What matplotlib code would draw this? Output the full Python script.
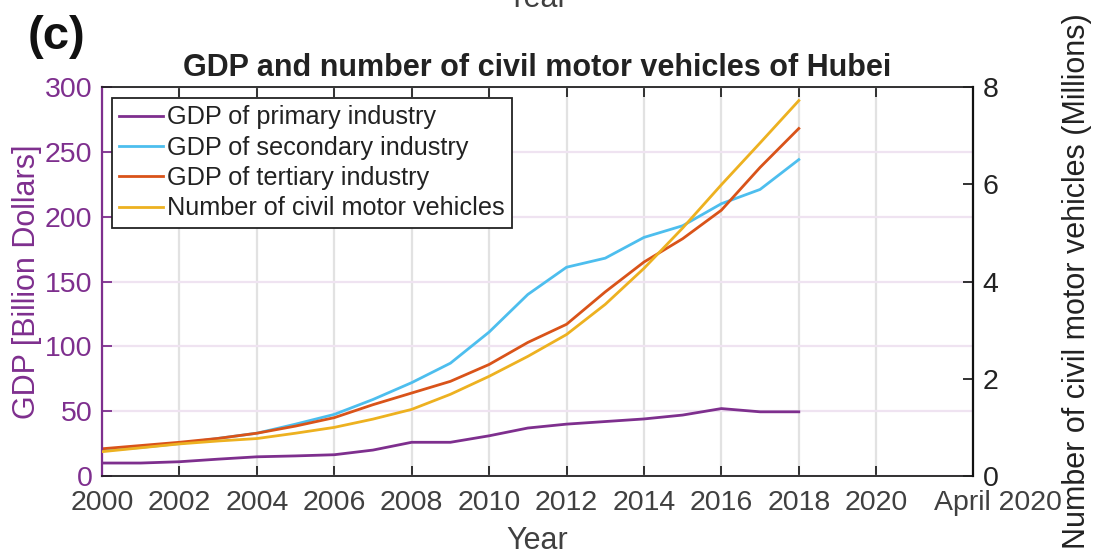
import numpy as np
import matplotlib
matplotlib.use("Agg")
import matplotlib.pyplot as plt

plt.rcParams['font.family'] = ['Liberation Sans', 'DejaVu Sans']

# data
years = list(range(2000, 2019))
gdp_primary = [10, 10, 11, 13, 14.8, 15.5, 16.4, 20, 26, 26, 31, 37, 40, 42, 44, 47, 52, 49.5, 49.5]
gdp_secondary = [19.5, 22, 25, 29, 33, 40, 47.5, 59, 72, 87, 111, 140, 161, 168, 184, 193, 210, 221, 244]
gdp_tertiary = [21, 23.5, 26, 29, 33, 38.5, 45, 55, 64, 73, 86, 103, 117, 142, 165, 183, 205, 238, 268]
vehicles = [0.50, 0.58, 0.66, 0.72, 0.77, 0.88, 1.0, 1.17, 1.37, 1.68, 2.05, 2.46, 2.91, 3.53, 4.27, 5.1, 5.99, 6.85, 7.72]

xticks = list(range(2000, 2021, 2))
gdp_ticks = [0, 50, 100, 150, 200, 250, 300]
veh_ticks = [0, 2, 4, 6, 8]

c_prim = "#7E2F8E"
c_sec = "#4DBEEE"
c_ter = "#D95319"
c_veh = "#EDB120"
tick_gray = "#404040"

fig = plt.figure(figsize=(10.96, 5.56), dpi=100)
ax = fig.add_axes([102/1096, 1 - 476/556, (973 - 102)/1096, (476 - 87)/556])
ax2 = ax.twinx()

l1, = ax.plot(years, gdp_primary, color=c_prim, lw=2.0, label="GDP of primary industry")
l2, = ax.plot(years, gdp_secondary, color=c_sec, lw=2.0, label="GDP of secondary industry")
l3, = ax.plot(years, gdp_tertiary, color=c_ter, lw=2.0, label="GDP of tertiary industry")
l4, = ax2.plot(years, vehicles, color=c_veh, lw=2.0, label="Number of civil motor vehicles")

ax.set_xlim(2000, 2022.5)
ax.set_ylim(0, 300)
ax2.set_ylim(0, 8)
ax.set_xticks(xticks)
ax.set_yticks(gdp_ticks)
ax2.set_yticks(veh_ticks)

# grid: gray verticals, light purple horizontals
ax.xaxis.grid(True, color="#E2E2E2", lw=1.6)
ax.yaxis.grid(True, color="#EFE3F1", lw=1.6)
ax.set_axisbelow(True)

ax.tick_params(axis='x', direction='in', top=True, length=7, width=1.3,
               labelsize=20.5, labelcolor=tick_gray, pad=10, color="#222222")
ax.tick_params(axis='y', direction='in', length=7, width=1.3, labelsize=20.5,
               colors=c_prim, pad=7)
ax2.tick_params(axis='y', direction='in', length=7, width=1.3, labelsize=20.5,
                colors="#222222", pad=7)

for s in ['top', 'bottom']:
    ax.spines[s].set_color("#222222")
    ax.spines[s].set_linewidth(1.3)
ax.spines['left'].set_color(c_prim)
ax.spines['left'].set_linewidth(1.6)
ax.spines['right'].set_visible(False)
ax2.spines['left'].set_visible(False)
ax2.spines['top'].set_visible(False)
ax2.spines['bottom'].set_visible(False)
ax2.spines['right'].set_color("#111111")
ax2.spines['right'].set_linewidth(1.6)

ax.set_xlabel("Year", fontsize=22, color=tick_gray, labelpad=7)
ax.set_ylabel("GDP [Billion Dollars]", fontsize=22, color=c_prim, labelpad=2)
ax2.set_ylabel("Number of civil motor vehicles (Millions)", fontsize=22,
               color="#222222", labelpad=46)

# last label at the right end of the axis
ax.text(2023.15, -0.035, "April 2020", transform=ax.get_xaxis_transform(),
        ha='center', va='top', fontsize=20.5, color=tick_gray, clip_on=False)

ax.set_title("GDP and number of civil motor vehicles of Hubei", fontsize=22,
             fontweight='bold', color="#222222", pad=8)

fig.text(28/1096, 1 - 37/556, "(c)", fontsize=34, fontweight='bold',
         color="#111111", va='center', ha='left')
# cut-off label from the panel above
fig.text(537/1096, 1 - 7/556, "Year", fontsize=22, color=tick_gray,
         ha='center', va='baseline')

leg = ax2.legend(handles=[l1, l2, l3, l4], loc='upper left', fontsize=18.2,
                 bbox_to_anchor=(0.011, 0.972), frameon=True, fancybox=False,
                 edgecolor="#222222", framealpha=1, handlelength=1.75,
                 handletextpad=0.15, borderpad=0.3, labelspacing=0.25,
                 borderaxespad=0)
leg.get_frame().set_linewidth(1.3)
for t in leg.get_texts():
    t.set_color("#222222")

fig.savefig("out.png", dpi=100)
